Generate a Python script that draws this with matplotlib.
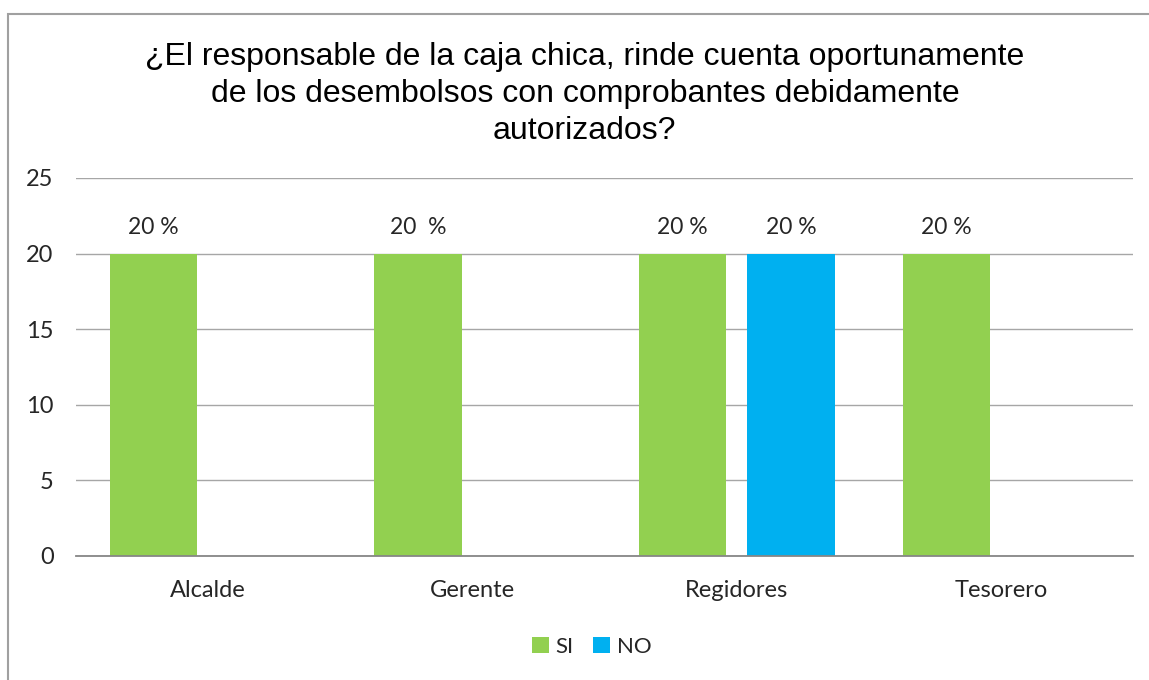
import matplotlib.pyplot as plt
import numpy as np
from matplotlib.patches import Rectangle

cargos = ['Alcalde', 'Gerente', 'Regidores', 'Tesorero']
si = [20, 20, 20, 20]
no = [0, 0, 20, 0]
etiquetas_si = ['20 %', '20  %', '20 %', '20 %']
etiquetas_no = ['', '', '20 %', '']
yticks = [0, 5, 10, 15, 20, 25]

titulo = ('¿El responsable de la caja chica, rinde cuenta oportunamente\n'
          'de los desembolsos con comprobantes debidamente\n'
          'autorizados?')

verde = '#92D050'
azul = '#00B0F0'
texto = '#262626'

fig = plt.figure(figsize=(11.49, 6.80), dpi=100)
ax = fig.add_axes([0.0661, 0.1824, 0.92, 0.5559])

x = np.arange(len(cargos))
ancho = 0.33
desp = 0.206
b_si = ax.bar(x - desp, si, ancho, color=verde, label='SI', zorder=3)
b_no = ax.bar(x + desp, no, ancho, color=azul, label='NO', zorder=3)

for barras, etiquetas in [(b_si, etiquetas_si), (b_no, etiquetas_no)]:
    for b, et in zip(barras, etiquetas):
        if et:
            ax.annotate(et, (b.get_x() + b.get_width() / 2, b.get_height()),
                        xytext=(0, 18.5), textcoords='offset points',
                        ha='center', va='center', fontsize=16.5,
                        family='Lato', color=texto)

ax.set_xlim(-0.5, len(cargos) - 0.5)
ax.set_ylim(0, 25)
ax.set_yticks(yticks)
ax.set_xticks(x)
ax.set_xticklabels(cargos)
ax.tick_params(length=0, labelsize=17, labelcolor=texto)
ax.tick_params(axis='y', pad=16)
ax.tick_params(axis='x', pad=17.5)
for lab in ax.get_xticklabels() + ax.get_yticklabels():
    lab.set_family('Lato')

ax.grid(axis='y', color='#a6a6a6', linewidth=1.0, zorder=0)
for s in ['top', 'right', 'left']:
    ax.spines[s].set_visible(False)
ax.spines['bottom'].set_color('#868686')
ax.spines['bottom'].set_linewidth(1.3)
ax.spines['bottom'].set_zorder(4)

fig.text(0.509, 0.862, titulo, ha='center', va='center', fontsize=23,
         family='Liberation Sans', color='black', linespacing=1.3)

fig.legend(loc='center', bbox_to_anchor=(0.515, 0.049), ncol=2, frameon=False,
           prop={'family': 'Lato', 'size': 16}, handlelength=0.75,
           handleheight=0.75, handletextpad=0.3, columnspacing=0.9,
           labelcolor=texto)

# marco exterior del gráfico
fig.patches.append(Rectangle((0.007, -0.05), 1.1, 1.029, transform=fig.transFigure,
                             fill=False, edgecolor='#a0a0a0', linewidth=1.5))

fig.savefig('out.png', dpi=100, facecolor='white')
